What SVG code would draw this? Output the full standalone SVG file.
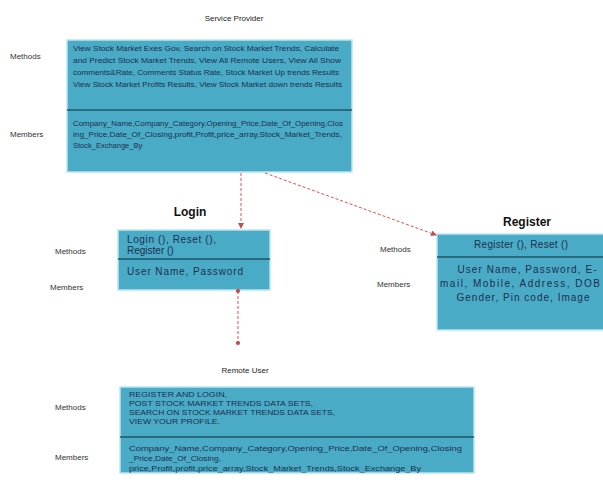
<svg xmlns="http://www.w3.org/2000/svg" width="603" height="502" viewBox="0 0 603 502">
<defs>
<style>
.box{fill:#4aabc6;stroke:#b8e6f2;stroke-width:1.5}
.div{stroke:#1e5566;stroke-width:1.5}
.t{font-family:"Liberation Sans",Arial,sans-serif;font-size:7.5px;fill:#1d2f4f}
.s{font-family:"Liberation Sans",Arial,sans-serif;font-size:6.5px;fill:#1d2f4f}
.tb{font-family:"Liberation Sans",Arial,sans-serif;font-size:10px;fill:#1d2f4f}
.lab{font-family:"Liberation Sans",Arial,sans-serif;font-size:8px;fill:#333}
.ttl{font-family:"Liberation Sans",Arial,sans-serif;font-size:8px;fill:#222}
.big{font-family:"Liberation Sans",Arial,sans-serif;font-size:12px;font-weight:bold;fill:#111}
.con{stroke:#d9534f;stroke-width:1;stroke-dasharray:3,2;fill:none}
</style>
<marker id="ah" viewBox="0 0 6 6" refX="5" refY="3" markerWidth="6" markerHeight="6" orient="auto">
<path d="M0,0 L6,3 L0,6 z" fill="#c0504d"/>
</marker>
<marker id="dot" viewBox="0 0 6 6" refX="3" refY="3" markerWidth="5" markerHeight="5">
<circle cx="3" cy="3" r="2.5" fill="#c0504d"/>
</marker>
</defs>
<rect width="603" height="502" fill="#fff"/>

<g id="service-provider">
<text class="ttl" x="234" y="21" text-anchor="middle">Service Provider</text>
<text class="lab" x="10" y="59">Methods</text>
<text class="lab" x="10" y="137">Members</text>
<rect class="box" x="67" y="40" width="285" height="132"/>
<line class="div" x1="67" y1="110" x2="352" y2="110"/>
<text class="t" x="73" y="51" textLength="266" lengthAdjust="spacingAndGlyphs">View Stock Market Exes Gov, Search on Stock Market Trends, Calculate</text>
<text class="t" x="73" y="63" textLength="268" lengthAdjust="spacingAndGlyphs">and Predict Stock Market Trends, View All Remote Users, View All Show</text>
<text class="t" x="73" y="75" textLength="266" lengthAdjust="spacingAndGlyphs">comments&amp;Rate, Comments Status Rate, Stock Market Up trends Results</text>
<text class="t" x="73" y="87" textLength="269" lengthAdjust="spacingAndGlyphs">View Stock Market Profits Results, View Stock Market down trends Results</text>
<text class="t" x="73" y="126" textLength="270" lengthAdjust="spacingAndGlyphs">Company_Name,Company_Category,Opening_Price,Date_Of_Opening,Clos</text>
<text class="t" x="73" y="137" textLength="269" lengthAdjust="spacingAndGlyphs">ing_Price,Date_Of_Closing,profit,Profit,price_array,Stock_Market_Trends,</text>
<text class="t" x="73" y="148">Stock_Exchange_By</text>
</g>

<g id="login">
<text class="big" x="190" y="216" text-anchor="middle">Login</text>
<text class="lab" x="55" y="254">Methods</text>
<text class="lab" x="50" y="290">Members</text>
<rect class="box" x="118" y="230" width="152" height="60"/>
<line class="div" x1="118" y1="259" x2="270" y2="259"/>
<text class="tb" x="127" y="243" textLength="89" lengthAdjust="spacing">Login (), Reset (),</text>
<text class="tb" x="127" y="254">Register ()</text>
<text class="tb" x="127" y="275" textLength="116" lengthAdjust="spacing">User Name, Password</text>
</g>

<g id="register">
<text class="big" x="527" y="226" text-anchor="middle">Register</text>
<text class="lab" x="380" y="252">Methods</text>
<text class="lab" x="377" y="287">Members</text>
<rect class="box" x="437" y="234" width="170" height="96"/>
<line class="div" x1="437" y1="257" x2="603" y2="257"/>
<text class="tb" x="521" y="248" text-anchor="middle" textLength="94" lengthAdjust="spacing">Register (), Reset ()</text>
<text class="tb" x="527" y="273" text-anchor="middle" textLength="139" lengthAdjust="spacing">User Name, Password, E-</text>
<text class="tb" x="520" y="287" text-anchor="middle" textLength="160" lengthAdjust="spacing">mail, Mobile, Address, DOB</text>
<text class="tb" x="523" y="301" text-anchor="middle" textLength="133" lengthAdjust="spacing">Gender, Pin code, Image</text>
</g>

<g id="remote-user">
<text class="ttl" x="245" y="373" text-anchor="middle">Remote User</text>
<text class="lab" x="55" y="410">Methods</text>
<text class="lab" x="55" y="460">Members</text>
<rect class="box" x="120" y="387" width="354" height="86"/>
<line class="div" x1="120" y1="437" x2="474" y2="437"/>
<text class="s" x="129" y="397" textLength="98" lengthAdjust="spacingAndGlyphs">REGISTER AND LOGIN,</text>
<text class="s" x="129" y="406" textLength="184" lengthAdjust="spacingAndGlyphs">POST STOCK MARKET TRENDS DATA SETS,</text>
<text class="s" x="129" y="415" textLength="206" lengthAdjust="spacingAndGlyphs">SEARCH ON STOCK MARKET TRENDS DATA SETS,</text>
<text class="s" x="129" y="424" textLength="91" lengthAdjust="spacingAndGlyphs">VIEW YOUR PROFILE.</text>
<text class="s" x="129" y="451" textLength="333" lengthAdjust="spacingAndGlyphs">Company_Name,Company_Category,Opening_Price,Date_Of_Opening,Closing</text>
<text class="s" x="129" y="461" textLength="92" lengthAdjust="spacingAndGlyphs">_Price,Date_Of_Closing,</text>
<text class="s" x="129" y="471" textLength="292" lengthAdjust="spacingAndGlyphs">price,Profit,profit,price_array,Stock_Market_Trends,Stock_Exchange_By</text>
</g>

<g id="connectors">
<line class="con" x1="241" y1="173" x2="241" y2="228" marker-end="url(#ah)"/>
<line class="con" x1="265" y1="173" x2="436" y2="235" marker-end="url(#ah)"/>
<line class="con" x1="238" y1="291" x2="238" y2="343" marker-start="url(#dot)" marker-end="url(#dot)"/>
</g>
</svg>
